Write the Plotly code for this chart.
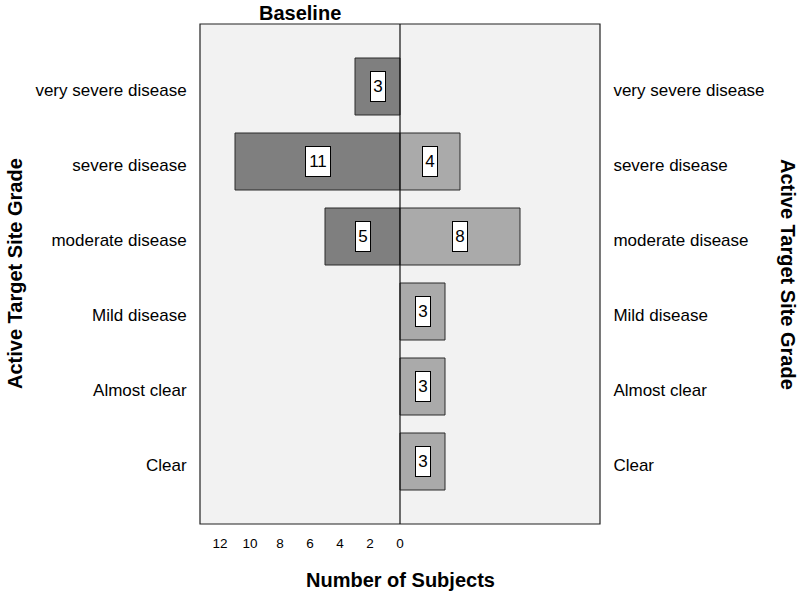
import plotly.graph_objects as go

categories = ["Clear", "Almost clear", "Mild disease", "moderate disease",
              "severe disease", "very severe disease"]
left_values = [0, 0, 0, 5, 11, 3]     # left panel (drawn to the left)
right_values = [3, 3, 3, 8, 4, 0]     # right panel
left_ticks = [12, 10, 8, 6, 4, 2, 0]

FONT = "Liberation Sans, Arial, sans-serif"
LEFT_COLOR = "#7f7f7f"
RIGHT_COLOR = "#aaaaaa"
EDGE = "#2b2b2b"

ypos = list(range(len(categories)))
yr = [-0.8333, len(categories) - 1 + 0.8333]

fig = go.Figure()

lx = [-v for v in left_values if v]
ly = [y for y, v in zip(ypos, left_values) if v]
rx = [v for v in right_values if v]
ry = [y for y, v in zip(ypos, right_values) if v]

fig.add_trace(go.Bar(x=lx, y=ly, orientation="h", width=0.76,
                     marker=dict(color=LEFT_COLOR, line=dict(color=EDGE, width=1)),
                     yaxis="y", hoverinfo="skip"))
fig.add_trace(go.Bar(x=rx, y=ry, orientation="h", width=0.76,
                     marker=dict(color=RIGHT_COLOR, line=dict(color=EDGE, width=1)),
                     yaxis="y2", hoverinfo="skip"))

annotations = []
for x, y in zip(lx + rx, ly + ry):
    txt = str(abs(x))
    annotations.append(dict(
        x=x / 2, y=y, xref="x", yref="y", text=txt, showarrow=False,
        font=dict(family=FONT, size=17, color="black"),
        bgcolor="white", bordercolor="black", borderwidth=1, borderpad=1,
        width=12 if len(txt) == 1 else 22, height=27,
        xanchor="center", yanchor="middle"))

W, H = 800, 597
ML, MR, MT, MB = 200, 200, 24, 73
pw, ph = W - ML - MR, H - MT - MB


def px(x, y):
    return (x - ML) / pw, (H - MB - y) / ph


titles = [
    ("<b>Baseline</b>", 300, 13, 0),
    ("<b>Number of Subjects</b>", 400, 580, 0),
    ("<b>Active Target Site Grade</b>", 15, 274, -90),
    ("<b>Active Target Site Grade</b>", 788, 274, 90),
]
for txt, x, y, ang in titles:
    xp, yp = px(x, y)
    annotations.append(dict(text=txt, x=xp, y=yp, xref="paper", yref="paper",
                            showarrow=False, textangle=ang,
                            xanchor="center", yanchor="middle",
                            font=dict(family=FONT, size=20, color="black")))

fig.update_layout(
    width=W, height=H,
    margin=dict(l=ML, r=MR, t=MT, b=MB),
    paper_bgcolor="white", plot_bgcolor="#f2f2f2",
    showlegend=False,
    font=dict(family=FONT, color="black"),
    xaxis=dict(range=[-13.3333, 13.3333], tickvals=[-t for t in left_ticks],
               ticktext=[str(t) for t in left_ticks], showgrid=False,
               zeroline=False, ticks="outside", ticklen=7,
               tickcolor="rgba(0,0,0,0)", tickfont=dict(size=13.5, family=FONT),
               fixedrange=True),
    yaxis=dict(range=yr, tickvals=ypos, ticktext=categories, showgrid=False,
               zeroline=False, ticks="outside", ticklen=9, ticklabelshift=4,
               tickcolor="rgba(0,0,0,0)", tickfont=dict(size=17, family=FONT)),
    yaxis2=dict(range=yr, tickvals=ypos, ticktext=categories, showgrid=False,
                zeroline=False, overlaying="y", side="right", ticks="outside",
                ticklen=9, ticklabelshift=4, tickcolor="rgba(0,0,0,0)",
                tickfont=dict(size=17, family=FONT)),
    annotations=annotations,
    shapes=[
        dict(type="rect", xref="paper", yref="paper", x0=0, x1=1, y0=0, y1=1,
             line=dict(color="#222222", width=1.2), layer="above"),
        dict(type="line", xref="x", yref="paper", x0=0, x1=0, y0=0, y1=1,
             line=dict(color="#111111", width=1.2), layer="above"),
    ],
)

fig.write_html("out.html", config={"displayModeBar": False},
               post_script="document.body.style.margin='0px';"
                           "document.body.style.overflow='hidden';")
